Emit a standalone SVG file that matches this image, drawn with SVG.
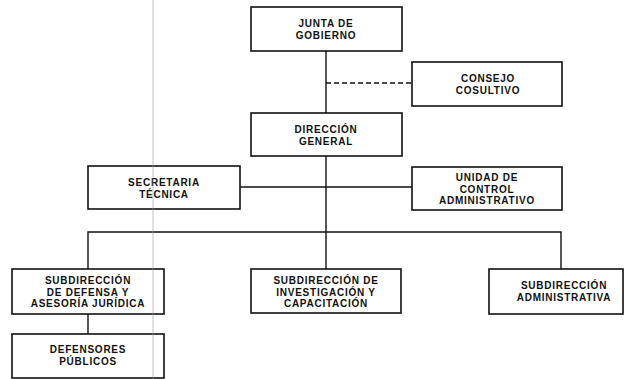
<svg xmlns="http://www.w3.org/2000/svg" width="629" height="379" viewBox="0 0 629 379">
<style>
.box{fill:#fff;stroke:#111;stroke-width:1.6}
.t{font-family:"Liberation Sans",Arial,sans-serif;font-weight:bold;font-size:10px;letter-spacing:0.75px;fill:#111;text-anchor:middle}
.c{fill:none;stroke:#111;stroke-width:1.4}
.d{fill:none;stroke:#111;stroke-width:1.4;stroke-dasharray:5 3}
</style>
<rect width="629" height="379" fill="#fff"/>
<g id="connectors">
<line class="c" x1="326" y1="51" x2="326" y2="269"/>
<line class="d" x1="326" y1="83" x2="412" y2="83"/>
<line class="c" x1="240" y1="187" x2="412" y2="187"/>
<polyline class="c" points="88,269 88,232 561,232 561,269"/>
<line class="c" x1="88" y1="314" x2="88" y2="334"/>
</g>
<g id="junta">
<rect class="box" x="251" y="7" width="151" height="44"/>
<text class="t" x="326" y="27">JUNTA DE</text>
<text class="t" x="326" y="38.5">GOBIERNO</text>
</g>
<g id="consejo">
<rect class="box" x="412" y="62" width="150" height="44"/>
<text class="t" x="488" y="82">CONSEJO</text>
<text class="t" x="488" y="93.5">COSULTIVO</text>
</g>
<g id="direccion">
<rect class="box" x="251" y="113" width="151" height="43"/>
<text class="t" x="326" y="133">DIRECCIÓN</text>
<text class="t" x="326" y="144.5">GENERAL</text>
</g>
<g id="secretaria">
<rect class="box" x="88" y="166" width="152" height="43"/>
<text class="t" x="164" y="186">SECRETARIA</text>
<text class="t" x="164" y="197.5">TÉCNICA</text>
</g>
<g id="unidad">
<rect class="box" x="412" y="167" width="150" height="43"/>
<text class="t" x="487" y="181">UNIDAD DE</text>
<text class="t" x="487" y="192.5">CONTROL</text>
<text class="t" x="487" y="204">ADMINISTRATIVO</text>
</g>
<g id="subdefensa">
<rect class="box" x="12" y="269" width="152" height="45"/>
<text class="t" x="88" y="284">SUBDIRECCIÓN</text>
<text class="t" x="88" y="295.5">DE DEFENSA Y</text>
<text class="t" x="88" y="307">ASESORÍA JURÍDICA</text>
</g>
<g id="subinvestigacion">
<rect class="box" x="251" y="269" width="150" height="44"/>
<text class="t" x="326" y="284">SUBDIRECCIÓN DE</text>
<text class="t" x="326" y="295.5">INVESTIGACIÓN Y</text>
<text class="t" x="326" y="307">CAPACITACIÓN</text>
</g>
<g id="subadministrativa">
<rect class="box" x="489" y="269" width="134" height="45"/>
<text class="t" x="564" y="289">SUBDIRECCIÓN</text>
<text class="t" x="564" y="300.5">ADMINISTRATIVA</text>
</g>
<g id="defensores">
<rect class="box" x="12" y="334" width="152" height="44"/>
<text class="t" x="88" y="353">DEFENSORES</text>
<text class="t" x="88" y="364.5">PÚBLICOS</text>
</g>
<line x1="153" y1="0" x2="153" y2="379" stroke="#999" stroke-opacity="0.6" stroke-width="1"/>
</svg>
